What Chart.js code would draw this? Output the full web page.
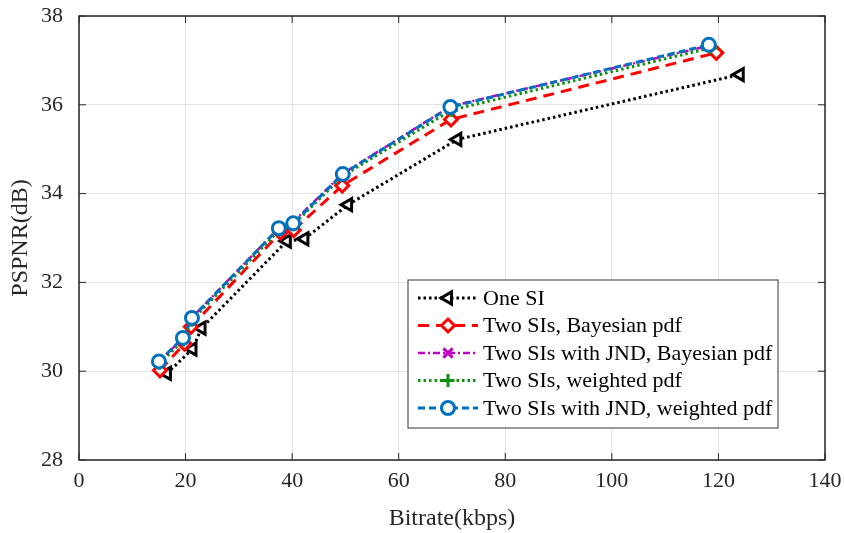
<!DOCTYPE html>
<html>
<head>
<meta charset="utf-8">
<script src="https://cdn.jsdelivr.net/npm/chart.js@4"></script>
<style>
  html, body { margin: 0; padding: 0; background: #fff; }
  #wrap { width: 844px; height: 533px; }
</style>
</head>
<body>
<div id="wrap"><canvas id="c" width="844" height="533"></canvas></div>
<script>
// PSPNR mot bitrate, fem varianter

const oneSiX = [16.5, 21.3, 23.0, 39.0, 42.3, 50.5, 71.0, 124.0];
const oneSiY = [29.95, 30.5, 30.97, 32.93, 32.98, 33.75, 35.22, 36.68];

const bayesX = [15.2, 19.8, 21.0, 37.8, 40.3, 49.4, 69.8, 119.6];
const bayesY = [30.02, 30.62, 31.0, 33.12, 33.18, 34.18, 35.67, 37.17];

const jndBayesX = [15.0, 19.6, 21.3, 37.5, 40.1, 49.5, 69.8, 118.3];
const jndBayesY = [30.22, 30.75, 31.22, 33.22, 33.35, 34.45, 35.97, 37.33];

const weightedX = [15.1, 19.6, 21.2, 37.6, 40.2, 49.5, 69.9, 118.5];
const weightedY = [30.18, 30.7, 31.15, 33.18, 33.3, 34.4, 35.88, 37.28];

const jndWeightedX = [15.0, 19.5, 21.2, 37.5, 40.2, 49.5, 69.7, 118.2];
const jndWeightedY = [30.22, 30.75, 31.2, 33.22, 33.33, 34.44, 35.95, 37.35];

const labels = [
  "One SI",
  "Two SIs, Bayesian pdf",
  "Two SIs with JND, Bayesian pdf",
  "Two SIs, weighted pdf",
  "Two SIs with JND, weighted pdf",
];

const FONT = "'Liberation Serif', 'Times New Roman', serif";
const pts = (xs, ys) => xs.map((x, i) => ({ x, y: ys[i] }));

const series = [
  { data: pts(oneSiX, oneSiY), color: "#000000", dash: [2.5, 3], width: 3,
    style: "triangle", rot: -90, radius: 7, fill: "#ffffff" },
  { data: pts(bayesX, bayesY), color: "#ff0000", dash: [11, 7], width: 3,
    style: "rectRot", rot: 0, radius: 6.5, fill: "#ffffff" },
  { data: pts(jndBayesX, jndBayesY), color: "#bf00bf", dash: [7, 3, 2, 3], width: 2.5,
    style: "crossRot", rot: 0, radius: 6.5, fill: "#bf00bf" },
  { data: pts(weightedX, weightedY), color: "#109010", dash: [2.5, 3], width: 3,
    style: "cross", rot: 0, radius: 6.5, fill: "#109010" },
  { data: pts(jndWeightedX, jndWeightedY), color: "#0072bd", dash: [7, 4], width: 3,
    style: "circle", rot: 0, radius: 6.5, fill: "#ffffff" },
];

const datasets = series.map((s, i) => ({
  label: labels[i],
  data: s.data,
  borderColor: s.color,
  borderDash: s.dash,
  borderWidth: s.width,
  pointStyle: s.style,
  pointRotation: s.rot,
  pointRadius: s.radius,
  pointBorderWidth: 3,
  pointBorderColor: s.color,
  pointBackgroundColor: s.fill,
  showLine: true,
  tension: 0,
  fill: false,
  order: series.length - i,
}));

// Boks rundt plottet (MATLAB-stil)
const frame = {
  id: "frame",
  afterDraw(chart) {
    const { ctx, chartArea: a } = chart;
    ctx.save();
    ctx.strokeStyle = "#262626";
    ctx.lineWidth = 1.5;
    ctx.strokeRect(a.left, a.top, a.right - a.left, a.bottom - a.top);
    // små innoverpekende tikker
    ctx.lineWidth = 1;
    const xs = chart.scales.x, ys = chart.scales.y;
    xs.ticks.forEach((t) => {
      const px = xs.getPixelForValue(t.value);
      ctx.beginPath();
      ctx.moveTo(px, a.bottom); ctx.lineTo(px, a.bottom - 7);
      ctx.moveTo(px, a.top); ctx.lineTo(px, a.top + 7);
      ctx.stroke();
    });
    ys.ticks.forEach((t) => {
      const py = ys.getPixelForValue(t.value);
      ctx.beginPath();
      ctx.moveTo(a.left, py); ctx.lineTo(a.left + 7, py);
      ctx.moveTo(a.right, py); ctx.lineTo(a.right - 7, py);
      ctx.stroke();
    });
    ctx.restore();
  },
};

// Egen legende med linje + markør, nede til høyre
const legendBox = {
  id: "legendBox",
  afterDraw(chart) {
    const { ctx, chartArea: a } = chart;
    const w = 370, rowH = 27.5, h = 148;
    const x0 = a.right - 47 - w, y0 = a.bottom - 32 - h;
    ctx.save();
    ctx.fillStyle = "#ffffff";
    ctx.fillRect(x0, y0, w, h);
    ctx.strokeStyle = "#555555";
    ctx.lineWidth = 1.2;
    ctx.strokeRect(x0, y0, w, h);
    ctx.font = `22px ${FONT}`;
    ctx.textBaseline = "middle";
    series.forEach((s, i) => {
      const cy = y0 + 18 + i * rowH;
      ctx.strokeStyle = s.color;
      ctx.lineWidth = s.width;
      ctx.setLineDash(s.dash);
      ctx.beginPath();
      ctx.moveTo(x0 + 10, cy); ctx.lineTo(x0 + 70, cy);
      ctx.stroke();
      ctx.setLineDash([]);
      ctx.fillStyle = s.fill;
      ctx.lineWidth = 3;
      Chart.helpers.drawPoint(ctx, { pointStyle: s.style, rotation: s.rot, radius: s.radius, borderWidth: 3 }, x0 + 40, cy);
      ctx.fillStyle = "#000000";
      ctx.fillText(labels[i], x0 + 75, cy + 1);
    });
    ctx.restore();
  },
};

new Chart(document.getElementById("c"), {
  type: "scatter",
  data: { datasets },
  plugins: [frame, legendBox],
  options: {
    responsive: false,
    animation: false,
    layout: { padding: { top: 16, right: 19, bottom: 0, left: 0 } },
    plugins: { legend: { display: false }, tooltip: { enabled: false } },
    scales: {
      x: {
        type: "linear", min: 0, max: 140,
        ticks: { stepSize: 20, color: "#262626", font: { family: FONT, size: 22 }, padding: 8, maxRotation: 0 },
        grid: { color: "#e3e3e3", lineWidth: 1, tickLength: 0, drawTicks: false },
        border: { display: false },
        title: { display: true, text: "Bitrate(kbps)", color: "#262626", font: { family: FONT, size: 24 }, padding: { top: 2, bottom: 0 } },
        afterFit(scale) { scale.height = 73; scale.paddingLeft = 0; scale.paddingRight = 0; },
      },
      y: {
        type: "linear", min: 28, max: 38,
        ticks: { stepSize: 2, color: "#262626", font: { family: FONT, size: 22 }, padding: 16 },
        grid: { color: "#e3e3e3", lineWidth: 1, tickLength: 0, drawTicks: false },
        border: { display: false },
        title: { display: true, text: "PSPNR(dB)", color: "#262626", font: { family: FONT, size: 24 }, padding: { top: 6, bottom: 0 } },
        afterFit(scale) { scale.width = 79; scale.paddingTop = 0; scale.paddingBottom = 0; },
      },
    },
  },
});
</script>
</body>
</html>
